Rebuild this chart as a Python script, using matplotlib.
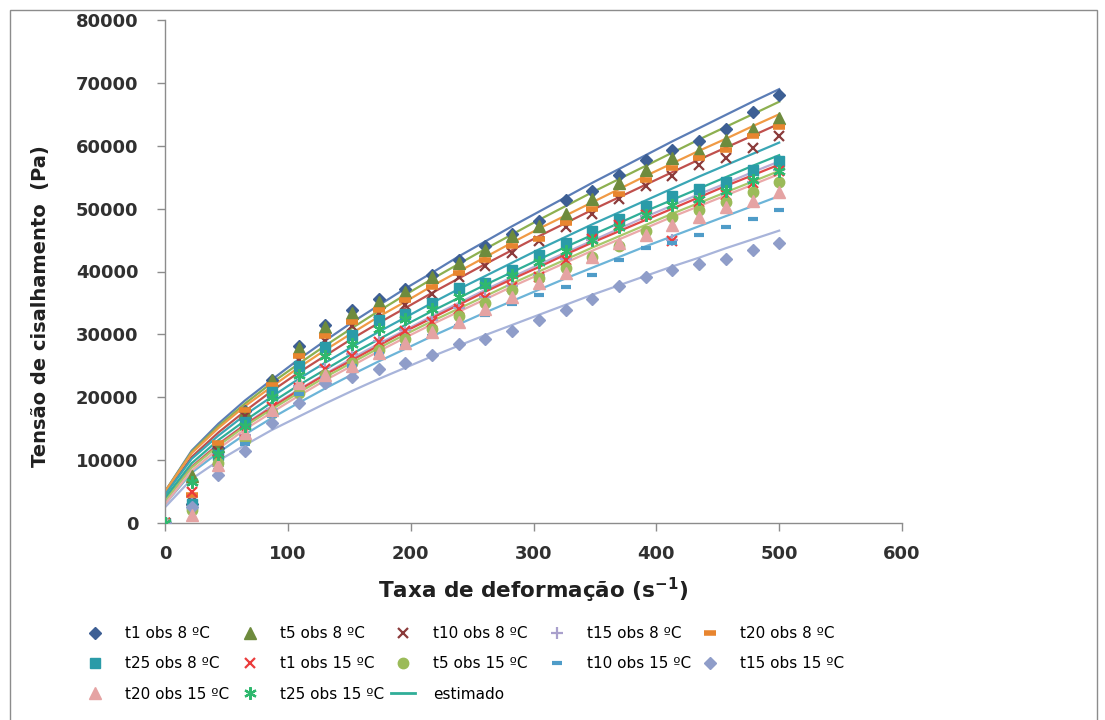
import matplotlib
matplotlib.use("Agg")
import matplotlib.pyplot as plt
from matplotlib.lines import Line2D
from matplotlib.patches import Rectangle

# Shear rate (s^-1)
shear_rate = [0, 21.7, 43.5, 65.2, 87.0, 108.7, 130.4, 152.2, 173.9, 195.7, 217.4, 239.1,
              260.9, 282.6, 304.3, 326.1, 347.8, 369.6, 391.3, 413.0, 434.8, 456.5, 478.3, 500]

# Observed shear stress (Pa)
obs_t1_8 = [0, 3000, 12000, 17800, 22800, 28200, 31500, 33800, 35600, 37200, 39500, 41800,
            44000, 46000, 48000, 51400, 52800, 55400, 57800, 59400, 60800, 62600, 65400, 68000]
obs_t5_8 = [0, 7400, 12200, 17600, 22700, 27900, 31200, 33400, 35200, 36800, 39100, 41400,
            43400, 45600, 47300, 49200, 51500, 54100, 56100, 58000, 59200, 60900, 62600, 64400]
obs_t10_8 = [0, 3500, 11500, 17000, 21500, 26000, 29000, 31300, 33400, 34700, 36500, 39200,
             40900, 42900, 44800, 47100, 49200, 51600, 53600, 55200, 56900, 58100, 59700, 61500]
obs_t15_8 = [0, 4200, 9000, 14000, 18200, 21800, 24800, 26800, 29000, 30700, 32300, 34200,
             36000, 37700, 39500, 42000, 45000, 47200, 48800, 45000, 51000, 52300, 54200, 56200]
obs_t20_8 = [0, 4500, 12700, 17900, 21900, 26600, 29700, 31900, 33900, 35500, 37600, 39800,
             41800, 44000, 45200, 47700, 50000, 52400, 54600, 56400, 58100, 59300, 61500, 63000]
obs_t25_8 = [0, 3000, 10800, 16100, 20900, 24900, 28000, 29900, 32300, 33300, 35000, 37300,
             38200, 40300, 42600, 44500, 46400, 48400, 50400, 52000, 53200, 54300, 56100, 57600]
obs_t1_15 = [0, 5000, 10000, 14500, 18500, 21500, 24500, 26500, 28800, 30500, 32000, 34000,
             35800, 37500, 39200, 41800, 45100, 47400, 49000, 44800, 51100, 52100, 54000, 56000]
obs_t5_15 = [0, 2000, 9500, 13200, 17500, 20700, 23500, 25500, 27500, 29200, 30800, 33000,
             35000, 37000, 38900, 40500, 42300, 44000, 46500, 48700, 49800, 51100, 52700, 54300]
obs_t10_15 = [0, 2500, 8500, 12500, 17000, 20500, 23000, 25000, 26800, 28200, 29800, 31400,
              33100, 34800, 36300, 37600, 39400, 41800, 43800, 44500, 45800, 47100, 48400, 49800]
obs_t15_15 = [0, 2500, 7600, 11400, 15900, 19100, 22200, 23200, 24500, 25400, 26700, 28400,
              29200, 30600, 32300, 33900, 35600, 37700, 39200, 40200, 41200, 42000, 43400, 44600]
obs_t20_15 = [0, 1200, 9200, 14300, 18000, 22300, 23500, 25000, 27000, 28600, 30300, 32000,
              34000, 36000, 38100, 39700, 42300, 44500, 45800, 47400, 48700, 50300, 51200, 52700]
obs_t25_15 = [0, 6500, 11000, 15500, 20000, 23500, 26500, 28500, 30800, 32500, 34000, 36000,
              37800, 39500, 41500, 43200, 45000, 47000, 49000, 50500, 51500, 52800, 54500, 56000]

# Estimated shear stress (Pa)
est_t1_8 = [5000, 11500, 15800, 19500, 22800, 26000, 29000, 31900, 34600, 37300, 39800, 42400,
            44800, 47200, 49500, 51800, 54100, 56300, 58500, 60700, 62800, 64900, 67000, 69000]
est_t5_8 = [5000, 11300, 15400, 19000, 22300, 25300, 28200, 31000, 33700, 36300, 38800, 41200,
            43600, 45900, 48200, 50400, 52600, 54700, 56800, 58900, 61000, 63000, 65000, 67000]
est_t10_8 = [4500, 10500, 14400, 17800, 21000, 23900, 26600, 29300, 31800, 34200, 36600, 38900,
             41200, 43400, 45600, 47700, 49800, 51800, 53800, 55800, 57800, 59700, 61600, 63500]
est_t15_8 = [3500, 9000, 12600, 15700, 18600, 21200, 23700, 26200, 28500, 30700, 32900, 35000,
             37100, 39100, 41100, 43000, 44900, 46800, 48700, 50500, 52300, 54000, 55800, 57500]
est_t20_8 = [5000, 11100, 15100, 18600, 21700, 24700, 27500, 30200, 32800, 35200, 37700, 40000,
             42300, 44600, 46800, 48900, 51000, 53100, 55200, 57200, 59200, 61100, 63100, 65000]
est_t25_8 = [4500, 10200, 13900, 17200, 20100, 22900, 25500, 28000, 30400, 32700, 35000, 37200,
             39300, 41400, 43500, 45500, 47500, 49400, 51300, 53200, 55100, 56900, 58700, 60500]
est_t1_15 = [3500, 8900, 12500, 15600, 18400, 21100, 23600, 25900, 28200, 30500, 32600, 34700,
             36800, 38800, 40700, 42700, 44600, 46400, 48200, 50000, 51800, 53600, 55300, 57000]
est_t5_15 = [3500, 8800, 12300, 15400, 18100, 20700, 23200, 25500, 27800, 30000, 32100, 34100,
             36100, 38100, 40000, 41900, 43800, 45600, 47400, 49200, 50900, 52600, 54300, 56000]
est_t10_15 = [3000, 8000, 11200, 14100, 16700, 19100, 21400, 23600, 25700, 27700, 29700, 31600,
              33500, 35300, 37100, 38900, 40600, 42300, 44000, 45600, 47200, 48800, 50400, 52000]
est_t15_15 = [2500, 7000, 9900, 12400, 14800, 16900, 19000, 21000, 22900, 24700, 26500, 28200,
              29900, 31500, 33100, 34700, 36300, 37800, 39300, 40800, 42200, 43700, 45100, 46500]
est_t20_15 = [3000, 8300, 11800, 14900, 17600, 20200, 22700, 25000, 27300, 29500, 31600, 33600,
              35600, 37600, 39500, 41400, 43300, 45100, 46900, 48700, 50400, 52100, 53800, 55500]
est_t25_15 = [4000, 9500, 13200, 16300, 19200, 21900, 24400, 26900, 29200, 31500, 33700, 35800,
              37900, 39900, 41900, 43900, 45800, 47700, 49600, 51400, 53200, 55000, 56800, 58500]

series_labels = ["t1 obs 8 ºC", "t5 obs 8 ºC", "t10 obs 8 ºC", "t15 obs 8 ºC", "t20 obs 8 ºC",
                 "t25 obs 8 ºC", "t1 obs 15 ºC", "t5 obs 15 ºC", "t10 obs 15 ºC",
                 "t15 obs 15 ºC", "t20 obs 15 ºC", "t25 obs 15 ºC"]
observed = [obs_t1_8, obs_t5_8, obs_t10_8, obs_t15_8, obs_t20_8, obs_t25_8,
            obs_t1_15, obs_t5_15, obs_t10_15, obs_t15_15, obs_t20_15, obs_t25_15]
estimated = [est_t1_8, est_t5_8, est_t10_8, est_t15_8, est_t20_8, est_t25_8,
             est_t1_15, est_t5_15, est_t10_15, est_t15_15, est_t20_15, est_t25_15]

# marker styles: (colour, marker, size, edge width)
styles = [
    ("#3D5F94", "D", 6.5, 1.0),
    ("#6E8B3D", "^", 8.5, 1.0),
    ("#8B3B3B", "x", 7.0, 1.6),
    ("#A9A0CC", "+", 9.0, 1.6),
    ("#E8852F", "_", 9.0, 4.0),
    ("#2A9BA8", "s", 7.5, 1.0),
    ("#EB3C3C", "x", 7.0, 1.6),
    ("#9BBB59", "o", 7.5, 1.0),
    ("#4F9CC8", "_", 7.0, 3.0),
    ("#8F9DC9", "D", 6.5, 1.0),
    ("#E5A3A3", "^", 8.5, 1.0),
    ("#2FB86E", (6, 2, 0), 9.0, 1.6),
]
line_colors = ["#5B7DB6", "#8DB050", "#C0504D", "#B7AED6", "#F09A45", "#3AA6B5",
               "#E04848", "#A9C86A", "#6CB4D8", "#A8B4DA", "#EBA9A9", "#30AE98"]

W, H = 1105, 720
fig = plt.figure(figsize=(W / 100, H / 100), dpi=100)
ax = fig.add_axes([165 / W, 1 - 523 / H, (902 - 165) / W, (523 - 20) / H])

for est, lc in zip(estimated, line_colors):
    ax.plot(shear_rate, est, color=lc, lw=1.6, zorder=2)

handles = []
for obs, (c, m, ms, mew), lab in zip(observed, styles, series_labels):
    h, = ax.plot(shear_rate, obs, ls="none", marker=m, ms=ms, color=c,
                 markeredgecolor=c, mew=mew, zorder=3, label=lab)
    handles.append(h)

est_handle = Line2D([], [], color="#30AE98", lw=2.0)
handles.append(est_handle)
labels = series_labels + ["estimado"]

ax.set_xlim(0, 600)
ax.set_ylim(0, 80000)
ax.set_xticks(range(0, 601, 100))
ax.set_yticks(range(0, 80001, 10000))
for s in ("top", "right"):
    ax.spines[s].set_visible(False)
for s in ("left", "bottom"):
    ax.spines[s].set_color("#8C8C8C")
    ax.spines[s].set_linewidth(1.0)
ax.tick_params(axis="both", direction="out", length=6, width=1.0, color="#8C8C8C",
               labelsize=13, labelcolor="#303030")
ax.tick_params(axis="y", pad=13)
ax.tick_params(axis="x", pad=10)
for t in ax.get_xticklabels() + ax.get_yticklabels():
    t.set_fontweight("bold")

ax.set_xlabel(r"Taxa de deformação (s$^{\mathbf{-1}}$)", fontsize=15.5, fontweight="bold",
              color="#202020")
ax.xaxis.set_label_coords(0.5, -(590 - 523) / 503, transform=ax.transAxes)
ax.set_ylabel("Tensão de cisalhamento  (Pa)", fontsize=14, fontweight="bold",
              color="#202020")
ax.yaxis.set_label_coords((41 - 165) / 737, (523 - 306) / 503, transform=ax.transAxes)
ax.yaxis.label.set_verticalalignment("center")
ax.xaxis.label.set_verticalalignment("center")

# legend laid out row by row in five evenly spaced columns
legend_fs = 11
handle_len = 1.6
handle_px = handle_len * legend_fs * 100 / 72
column_centers = [95, 250, 403, 557, 710]
for col, xc in enumerate(column_centers):
    idx = list(range(col, len(handles), 5))
    fig.legend([handles[i] for i in idx], [labels[i] for i in idx],
               loc="upper left", bbox_to_anchor=((xc - handle_px / 2) / W, 1 - 626 / H),
               ncol=1, frameon=False, fontsize=legend_fs, handlelength=handle_len,
               handletextpad=1.15, labelspacing=1.0, borderpad=0, borderaxespad=0)

fig.add_artist(Rectangle((10 / W, -0.01), (1097 - 10) / W, 1 - 10 / H + 0.01,
                         transform=fig.transFigure, fill=False, edgecolor="#8C8C8C",
                         lw=1.0, zorder=0))

fig.savefig("out.png", dpi=100, facecolor="white")
